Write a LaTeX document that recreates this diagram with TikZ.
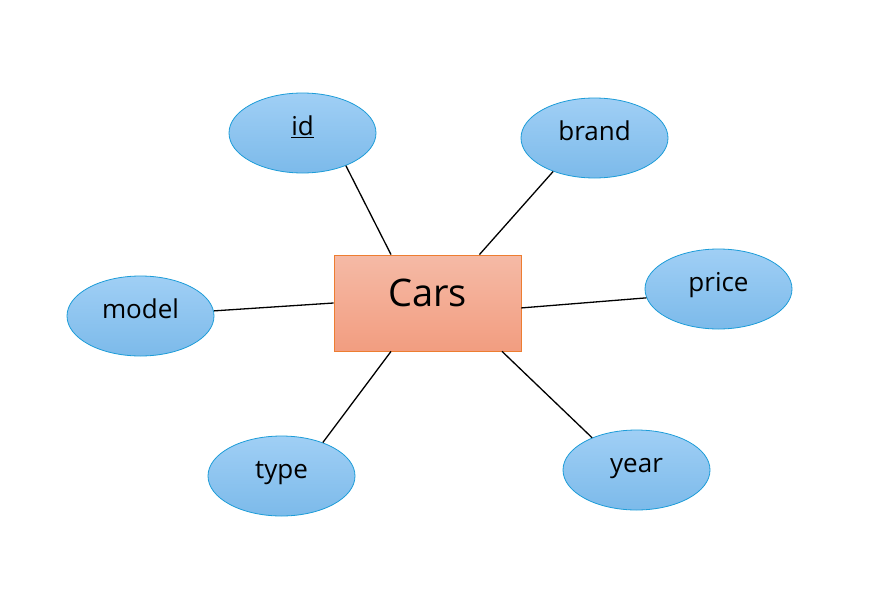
\documentclass[tikz,border=0pt]{standalone}
\usepackage{fontspec}
\setmainfont{Open Sans}
\usetikzlibrary{shapes.geometric}

\definecolor{attrtop}{RGB}{160,207,245}
\definecolor{attrbot}{RGB}{124,186,234}
\definecolor{attrline}{RGB}{28,156,216}
\definecolor{enttop}{RGB}{245,186,166}
\definecolor{entbot}{RGB}{242,157,128}
\definecolor{entline}{RGB}{237,125,49}

\begin{document}
\begin{tikzpicture}[x=1pt,y=-1pt,
	attr/.style={ellipse, draw=attrline, line width=0.8pt, top color=attrtop, bottom color=attrbot,
		minimum width=147pt, minimum height=80pt, inner sep=0pt,
		font=\fontsize{26}{26}\selectfont, text height=13pt, text depth=8pt},
	entity/.style={rectangle, draw=entline, line width=0.8pt, top color=enttop, bottom color=entbot,
		minimum width=187pt, minimum height=96pt, inner sep=0pt,
		font=\fontsize{38}{38}\selectfont, text height=30pt, text depth=24pt},
	link/.style={line width=1.3pt, black}]
	\useasboundingbox (0,0) rectangle (885,597);

	\node[entity] (cars) at (427.5,303) {Cars};

	\node[attr] (id) at (302.5,133) {\underline{id}};
	\node[attr] (brand) at (594.5,138) {brand};
	\node[attr] (price) at (718.5,289) {price};
	\node[attr] (model) at (140.5,316) {model};
	\node[attr] (type) at (281.5,476) {type};
	\node[attr] (year) at (636.5,470) {year};

	% attribute links
	\draw[link] (id.-37) -- (cars.127);
	\draw[link] (brand.-141) -- (cars.43);
	\draw[link] (price.187) -- (cars.-3.7);
	\draw[link] (model.4) -- (cars.west);
	\draw[link] (type.39) -- (cars.233);
	\draw[link] (year.144) -- (cars.-33);
\end{tikzpicture}
\end{document}
